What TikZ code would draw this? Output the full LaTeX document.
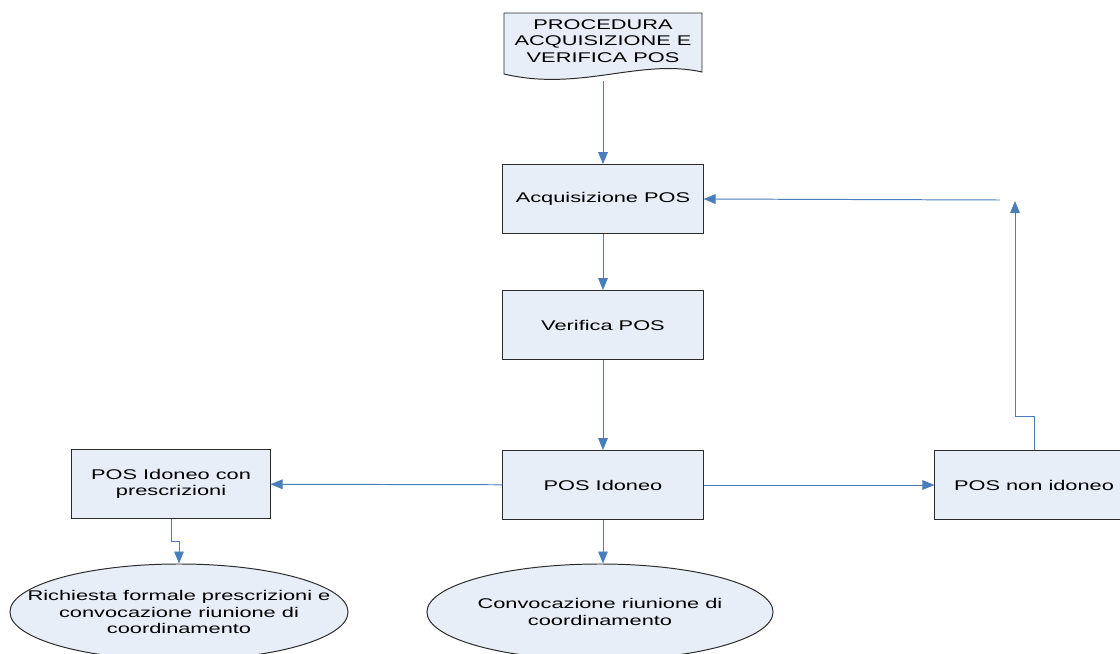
\documentclass[tikz,border=0pt]{standalone}
\usepackage{fontspec}
\setmainfont{Liberation Sans}[FakeStretch=1.55]
\usepackage{tikz}
\usetikzlibrary{arrows.meta, positioning, shapes.geometric}
\definecolor{mFlow}{HTML}{4A7EBB}
\definecolor{mFill}{HTML}{E8EEF7}
\definecolor{mLine}{HTML}{2B2B2B}

\begin{document}
\begin{tikzpicture}[x=0.025cm, y=-0.025cm,
    every node/.style={font=\fontsize{10}{11.5}\selectfont, align=center},
    stepbox/.style={draw=mLine, fill=mFill, line width=0.7pt, minimum width=5cm, minimum height=1.72cm, inner sep=0pt},
    endbox/.style={ellipse, draw=mLine, fill=mFill, line width=0.7pt, minimum height=2.4cm, inner sep=0pt},
    flow/.style={draw=mFlow, line width=0.7pt, -{Triangle[length=3mm, width=2.4mm]}}]
    \useasboundingbox (0,0) rectangle (1120,653);
    % documento iniziale
    \filldraw[fill=mFill, draw=mLine, line width=0.7pt]
      (504,13) -- (702,13) -- (702,72) .. controls (640,58) and (580,92) .. (504,74) -- cycle;
    \node (doc) at (603,41) {PROCEDURA\\ACQUISIZIONE E\\VERIFICA POS};
    \coordinate (docbot) at (603,81);
    % passi
    \node[stepbox] (acq)      at (603,199) {Acquisizione POS};
    \node[stepbox] (verifica) at (603,325) {Verifica POS};
    \node[stepbox] (idoneo)   at (603,485) {POS Idoneo};
    \node[stepbox, minimum width=4.95cm] (prescr)    at (171,484) {POS Idoneo con\\prescrizioni};
    \node[stepbox, minimum width=4.95cm] (nonidoneo) at (1034,485) {POS non idoneo};
    \node[endbox, minimum width=8.45cm, inner xsep=-23pt] (richiesta) at (179,612) {Richiesta formale prescrizioni e\\convocazione riunione di\\coordinamento};
    \node[endbox, minimum width=8.65cm] (convoc)    at (600,612) {Convocazione riunione di\\coordinamento};
    \coordinate (retup) at (1015,201);
    \coordinate (retin) at (1000,200);
    % collegamenti
    \draw[flow] (docbot) -- (acq);
    \draw[flow] (acq) -- (verifica);
    \draw[flow] (verifica) -- (idoneo);
    \draw[flow] (idoneo) -- (prescr);
    \draw[flow] (idoneo) -- (nonidoneo);
    \draw[flow] (idoneo) -- (idoneo |- convoc.north);
    \draw[flow] (prescr.south) -- ++(0,23) -| (richiesta.north);
    \draw[flow] (nonidoneo.north) -- ++(0,-34) -| (retup);
    \draw[flow] (retin) -- (acq.east);
\end{tikzpicture}
\end{document}
